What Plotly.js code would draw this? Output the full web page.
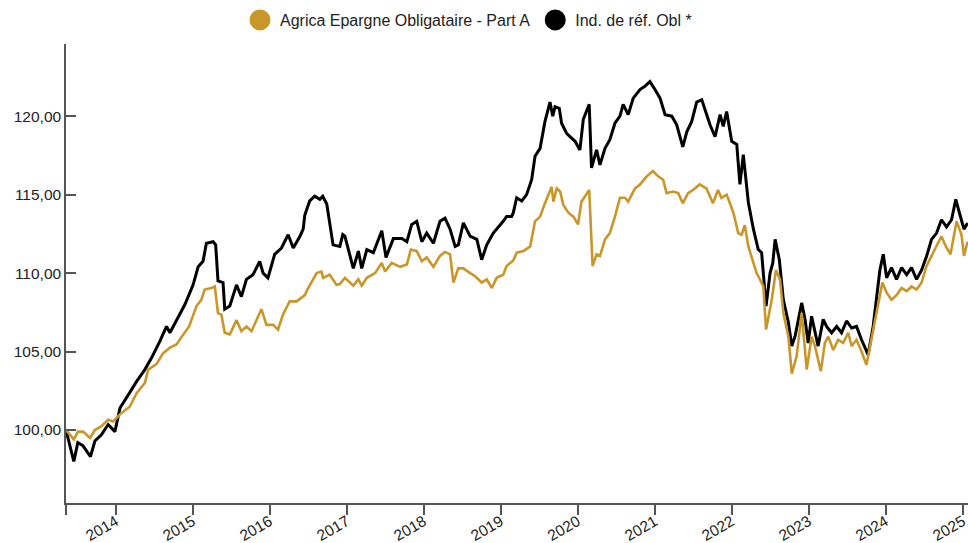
<!DOCTYPE html>
<html>
<head>
<meta charset="utf-8">
<script src="https://cdn.plot.ly/plotly-3.0.1.min.js"></script>
<style>
  html, body { margin: 0; padding: 0; background: #ffffff; }
  #chart { width: 968px; height: 543px; }
</style>
</head>
<body>
<div id="chart"></div>
<script>
// ---- Data ----
const fundName = 'Agrica Epargne Obligataire - Part A';
const indexName = 'Ind. de réf. Obl *';

const fundDates = ['2013-05-10','2013-06-16','2013-07-06','2013-07-30','2013-09-01','2013-09-24','2013-10-25','2013-11-26','2013-12-20',
'2014-01-21','2014-03-09','2014-04-10','2014-05-19','2014-06-04','2014-07-13','2014-08-14','2014-09-15','2014-10-16','2014-11-13','2014-12-15',
'2015-01-19','2015-02-11','2015-02-27','2015-03-31','2015-04-16','2015-05-01','2015-05-17','2015-06-02','2015-06-26','2015-07-28','2015-08-20','2015-09-13','2015-10-07','2015-10-30','2015-11-23','2015-12-17',
'2016-01-17','2016-02-10','2016-03-04','2016-04-05','2016-05-08','2016-06-16','2016-07-02','2016-08-11','2016-09-03','2016-09-11','2016-10-12','2016-11-13','2016-11-29','2016-12-23',
'2017-02-01','2017-02-25','2017-03-13','2017-04-06','2017-05-15','2017-06-16','2017-07-02','2017-08-02','2017-09-11','2017-10-13','2017-11-01','2017-11-29','2017-12-23',
'2018-01-15','2018-02-16','2018-03-19','2018-04-12','2018-05-06','2018-05-22','2018-06-14','2018-07-08','2018-08-09','2018-09-02','2018-10-03','2018-10-27','2018-11-20','2018-12-13',
'2019-01-13','2019-01-29','2019-03-02','2019-03-18','2019-04-19','2019-05-21','2019-06-13','2019-07-07','2019-07-30','2019-08-31','2019-09-08','2019-09-24','2019-10-10','2019-10-25','2019-11-18','2019-12-12',
'2020-01-03','2020-01-19','2020-02-25','2020-03-12','2020-03-31','2020-04-16','2020-05-10','2020-06-02','2020-06-26','2020-07-20','2020-08-13','2020-08-28','2020-09-29','2020-10-23','2020-11-23','2020-12-24',
'2021-01-18','2021-02-10','2021-02-26','2021-03-29','2021-04-22','2021-05-14','2021-06-08','2021-07-02','2021-08-02','2021-09-03','2021-10-04','2021-10-28','2021-11-13','2021-12-08',
'2022-01-09','2022-02-01','2022-02-17','2022-03-04','2022-03-21','2022-04-13','2022-04-29','2022-05-15','2022-05-31','2022-06-13','2022-07-10','2022-07-30','2022-08-18','2022-09-03','2022-09-27','2022-10-13','2022-11-05','2022-11-29','2022-12-23',
'2023-01-15','2023-01-31','2023-02-28','2023-03-19','2023-04-04','2023-04-28','2023-05-21','2023-06-14','2023-07-08','2023-07-24','2023-08-16','2023-09-09','2023-10-02','2023-10-26','2023-11-19','2023-12-17',
'2024-01-06','2024-01-29','2024-02-22','2024-03-17','2024-04-10','2024-05-03','2024-05-27','2024-06-20','2024-07-13','2024-08-06','2024-08-30','2024-09-22','2024-10-13','2024-11-04','2024-12-03','2024-12-26',
'2025-01-07','2025-01-24'];

const fundValues = [100.0,99.4,99.9,99.9,99.5,100.0,100.25,100.65,100.55,
101.0,101.5,102.35,103.0,103.85,104.2,104.9,105.25,105.45,106.0,106.6,
107.9,108.3,108.95,109.05,109.15,107.45,107.35,106.2,106.1,107.0,106.3,106.6,106.3,107.0,107.7,106.7,
106.7,106.4,107.35,108.2,108.2,108.6,109.05,110.0,110.1,109.7,109.9,109.25,109.3,109.7,
109.2,109.6,109.2,109.7,110.0,110.65,110.1,110.65,110.4,110.55,111.5,111.4,110.75,
111.0,110.4,111.1,111.35,111.2,109.4,110.3,110.3,110.0,109.8,109.4,109.6,109.05,109.7,
109.9,110.45,110.8,111.3,111.4,111.7,113.3,113.6,114.45,115.5,114.55,115.4,115.2,114.35,113.85,113.6,
113.1,114.55,115.3,110.45,111.2,111.1,112.15,112.55,113.6,114.8,114.8,114.55,115.4,115.65,116.15,116.5,
116.15,115.95,115.1,115.2,115.1,114.45,115.1,115.3,115.65,115.4,114.45,115.3,114.8,115.0,
113.85,112.55,112.45,113.05,111.7,110.65,110.0,109.6,109.15,106.4,108.3,110.2,109.6,107.45,105.95,103.6,104.7,107.45,103.85,
105.95,105.35,103.75,105.55,105.95,105.1,105.75,105.55,106.2,105.35,105.75,105.0,104.15,105.75,107.45,109.4,
108.75,108.3,108.6,109.05,108.85,109.15,108.95,109.4,110.45,111.1,111.7,112.35,111.7,111.2,113.3,112.45,
111.1,112.0];

const indexDates = ['2013-05-10','2013-06-16','2013-07-05','2013-07-29','2013-09-03','2013-09-24','2013-10-25','2013-11-26','2013-12-28',
'2014-01-21','2014-03-09','2014-04-10','2014-05-19','2014-06-20','2014-07-29','2014-08-30','2014-09-15','2014-10-16','2014-11-25',
'2015-01-03','2015-01-27','2015-02-19','2015-03-07','2015-04-08','2015-04-20','2015-05-01','2015-05-25','2015-06-02','2015-06-26','2015-07-28','2015-08-20','2015-09-13','2015-10-14','2015-11-15','2015-12-01','2015-12-24',
'2016-01-25','2016-02-26','2016-03-29','2016-04-22','2016-05-24','2016-06-08','2016-06-16','2016-07-09','2016-08-02','2016-08-26','2016-09-09','2016-09-28','2016-10-12','2016-10-28','2016-11-29','2016-12-13','2016-12-23',
'2017-01-09','2017-02-01','2017-02-25','2017-03-13','2017-04-06','2017-05-07','2017-06-16','2017-07-06','2017-08-10','2017-09-19','2017-10-13','2017-11-05','2017-11-29','2017-12-23',
'2018-01-15','2018-02-16','2018-03-19','2018-04-12','2018-05-06','2018-05-30','2018-06-14','2018-07-08','2018-08-09','2018-09-10','2018-10-03','2018-10-27','2018-11-27','2018-12-21',
'2019-01-13','2019-01-29','2019-02-22','2019-03-02','2019-03-18','2019-04-11','2019-05-04','2019-05-28','2019-06-13','2019-07-07','2019-07-30','2019-08-23','2019-09-05','2019-09-16','2019-10-06','2019-10-17','2019-11-10','2019-11-26','2019-12-20',
'2020-01-12','2020-01-28','2020-02-25','2020-03-07','2020-03-31','2020-04-16','2020-05-10','2020-06-02','2020-06-26','2020-07-20','2020-08-04','2020-08-28','2020-09-21','2020-10-23','2020-11-15','2020-12-09',
'2021-01-02','2021-01-26','2021-02-19','2021-03-23','2021-04-15','2021-05-14','2021-06-02','2021-06-25','2021-07-19','2021-08-12','2021-08-28','2021-09-20','2021-10-14','2021-11-07','2021-11-22','2021-12-08',
'2022-01-01','2022-01-25','2022-02-09','2022-02-25','2022-03-21','2022-04-14','2022-05-07','2022-05-23','2022-06-13','2022-07-02','2022-07-15','2022-07-26','2022-08-15','2022-09-03','2022-09-27','2022-10-13','2022-10-29','2022-11-29','2022-12-15','2022-12-30',
'2023-01-15','2023-02-15','2023-03-11','2023-03-27','2023-04-20','2023-05-14','2023-06-06','2023-06-30','2023-07-24','2023-08-16','2023-09-09','2023-10-10','2023-11-03','2023-11-19','2023-12-05','2023-12-21',
'2024-01-06','2024-01-29','2024-02-22','2024-03-17','2024-04-10','2024-05-03','2024-05-27','2024-06-20','2024-07-13','2024-08-06','2024-08-30','2024-09-22','2024-10-16','2024-11-09','2024-11-29','2024-12-18',
'2025-01-07','2025-01-24'];

const indexValues = [100.0,98.0,99.2,99.0,98.3,99.3,99.7,100.35,99.9,
101.4,102.4,103.1,103.85,104.6,105.65,106.6,106.2,107.0,108.0,
109.25,110.4,110.75,111.9,112.0,111.8,109.5,109.4,107.7,107.9,109.25,108.5,109.6,109.9,110.75,110.0,109.7,
111.2,111.6,112.45,111.6,112.35,112.8,113.7,114.6,114.9,114.7,114.9,114.4,113.2,111.8,111.7,112.45,112.35,
111.5,110.3,111.4,110.3,111.5,111.3,112.7,111.0,112.2,112.2,112.0,113.1,113.3,112.0,
112.55,111.9,113.3,113.5,112.8,111.7,111.8,113.2,112.35,112.15,110.85,111.8,112.55,112.9,
113.3,113.6,113.6,113.85,114.8,114.6,115.0,115.95,117.45,117.95,119.65,120.9,120.0,120.6,120.5,119.55,118.9,118.7,118.4,
117.85,119.8,120.75,116.7,117.85,116.9,117.95,118.5,119.55,120.0,120.75,120.1,121.15,121.7,121.9,122.2,
121.7,121.15,120.1,120.0,119.45,118.05,119.0,119.65,120.9,121.05,120.4,119.45,118.7,120.1,119.35,120.3,
118.4,118.2,115.65,117.55,114.5,112.8,111.5,111.3,107.9,110.0,110.65,112.15,110.85,108.3,106.85,105.35,106.0,108.1,107.05,105.55,
107.25,105.35,107.05,106.6,106.2,106.6,106.2,106.95,106.5,106.6,105.75,104.8,106.6,108.3,110.2,111.2,
109.7,110.35,109.6,110.35,109.9,110.35,109.6,110.2,111.05,112.15,112.55,113.4,112.95,113.4,114.7,113.75,
112.8,113.2];

const xRange = ['2013-05-10', '2025-01-26'];
const yRange = [95.35, 124.6];
const xTickVals = ['2013-05-10','2014-01-01','2015-01-01','2016-01-01','2017-01-01','2018-01-01','2019-01-01','2020-01-01','2021-01-01','2022-01-01','2023-01-01','2024-01-01','2025-01-01'];
const xTickText = ['','2014','2015','2016','2017','2018','2019','2020','2021','2022','2023','2024','2025'];
const yTickVals = [100, 105, 110, 115, 120, 124.6];
const yTickText = ['100,00','105,00','110,00','115,00','120,00',''];

// ---- Styles ----
const gold = '#C9962A';
const black = '#000000';
const axisColor = '#555555';
const font = 'Arial, "Liberation Sans", sans-serif';

const traces = [
  { x: indexDates, y: indexValues, type: 'scatter', mode: 'lines', name: indexName,
    line: { color: black, width: 3 }, showlegend: false, hoverinfo: 'x+y' },
  { x: fundDates, y: fundValues, type: 'scatter', mode: 'lines', name: fundName,
    line: { color: gold, width: 2.6 }, showlegend: false, hoverinfo: 'x+y' },
  { x: [null], y: [null], type: 'scatter', mode: 'markers', name: fundName,
    marker: { color: gold, size: 16, symbol: 'circle', line: { color: gold, width: 5 } } },
  { x: [null], y: [null], type: 'scatter', mode: 'markers', name: indexName,
    marker: { color: black, size: 16, symbol: 'circle', line: { color: black, width: 5 } } }
];

const layout = {
  width: 968, height: 543,
  margin: { l: 66, r: 0, t: 44, b: 40, pad: 0 },
  paper_bgcolor: '#ffffff', plot_bgcolor: '#ffffff',
  separators: ', ',
  font: { family: font, size: 15.5, color: '#222222' },
  showlegend: true,
  legend: {
    orientation: 'h', xref: 'container', yref: 'container',
    x: 240 / 968, xanchor: 'left', y: 1 - 20 / 543, yanchor: 'middle',
    font: { family: font, size: 16, color: '#222222' },
    bgcolor: 'rgba(0,0,0,0)', borderwidth: 0, itemclick: false
  },
  xaxis: {
    type: 'date', range: xRange, tickmode: 'array', tickvals: xTickVals, ticktext: xTickText,
    tickangle: -30, ticks: 'outside', ticklen: 10, tickwidth: 1.5, tickcolor: axisColor,
    ticklabelstandoff: -8, ticklabeloverflow: 'allow',
    showline: true, linecolor: axisColor, linewidth: 1.5, showgrid: false, zeroline: false,
    tickfont: { family: font, size: 15.5, color: '#222222' }, fixedrange: true
  },
  yaxis: {
    range: yRange, tickmode: 'array', tickvals: yTickVals, ticktext: yTickText,
    ticks: 'inside', ticklen: 10, tickwidth: 1.5, tickcolor: axisColor,
    showline: true, linecolor: axisColor, linewidth: 1.5, showgrid: false, zeroline: false,
    tickfont: { family: font, size: 15.5, color: '#222222' }, fixedrange: true
  }
};

Plotly.newPlot('chart', traces, layout, { displayModeBar: false, staticPlot: false });
</script>
</body>
</html>
